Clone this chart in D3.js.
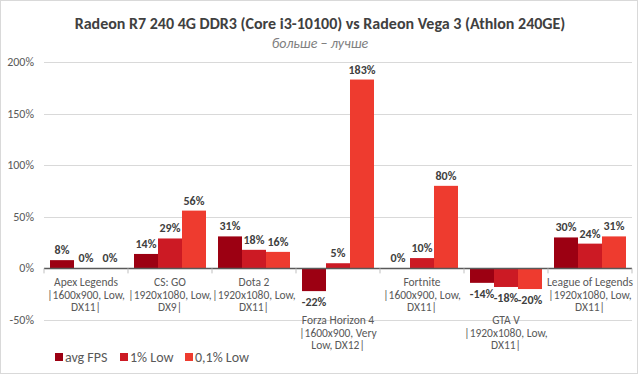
<!DOCTYPE html>
<html>
<head>
<meta charset="utf-8">
<script src="https://cdn.jsdelivr.net/npm/d3@7"></script>
<style>
    body { margin: 0; background: #fff; }
    svg { display: block; font-family: Calibri, Carlito, "Open Sans", sans-serif; }
</style>
</head>
<body>
<svg id="chart" width="640" height="376"></svg>
<script>
// Chart data
const categories = [
    ['Apex Legends', '|1600x900, Low,', 'DX11|'],
    ['CS: GO', '|1920x1080, Low,', 'DX9|'],
    ['Dota 2', '|1920x1080, Low,', 'DX11|'],
    ['Forza Horizon 4', '|1600x900, Very', 'Low, DX12|'],
    ['Fortnite', '|1600x900, Low,', 'DX11|'],
    ['GTA V', '|1920x1080, Low,', 'DX11|'],
    ['League of Legends', '|1920x1080, Low,', 'DX11|']
];
const seriesNames = ['avg FPS', '1% Low', '0,1% Low'];
const avgFps = [8, 14, 31, -22, 0, -14, 30];
const low1 = [0, 29, 18, 5, 10, -18, 24];
const low01 = [0, 56, 16, 183, 80, -20, 31];
const yTicks = [-50, 0, 50, 100, 150, 200];

const colors = ['#9c0012', '#cc1a24', '#ee3b2f'];
const seriesValues = [avgFps, low1, low01];

const width = 640, height = 376;
const margin = { left: 44, right: 8, top: 62, bottom: 56 };

const svg = d3.select('#chart');

// Outer border
svg.append('rect')
    .attr('x', 0.5).attr('y', 0.5)
    .attr('width', width - 3).attr('height', height - 3)
    .attr('fill', '#fff')
    .attr('stroke', '#d9d9d9');

// Title
svg.append('text')
    .attr('x', 320).attr('y', 29)
    .attr('text-anchor', 'middle')
    .attr('font-size', 16)
    .attr('font-weight', 'bold')
    .attr('fill', '#404040')
    .text('Radeon R7 240 4G DDR3 (Core i3-10100) vs Radeon Vega 3 (Athlon 240GE)');

svg.append('text')
    .attr('x', 320).attr('y', 48)
    .attr('text-anchor', 'middle')
    .attr('font-size', 14)
    .attr('font-style', 'italic')
    .attr('fill', '#808080')
    .text('больше – лучше');

const x = d3.scaleBand()
    .domain(d3.range(categories.length))
    .range([margin.left, width - margin.right])
    .paddingInner(0.143)
    .paddingOuter(0.0715);

const xInner = d3.scaleBand()
    .domain(d3.range(seriesNames.length))
    .range([0, x.bandwidth()]);

const y = d3.scaleLinear()
    .domain([-50, 200])
    .range([320, 62]);

// Gridlines
svg.append('g')
    .selectAll('line')
    .data(yTicks.filter(t => t !== 0))
    .join('line')
    .attr('x1', margin.left).attr('x2', width - margin.right)
    .attr('y1', d => Math.round(y(d)) + 0.5).attr('y2', d => Math.round(y(d)) + 0.5)
    .attr('stroke', '#d9d9d9');

// Y axis labels
svg.append('g')
    .selectAll('text')
    .data(yTicks)
    .join('text')
    .attr('x', 34)
    .attr('y', d => y(d) + 4)
    .attr('text-anchor', 'end')
    .attr('font-size', 12)
    .attr('fill', '#595959')
    .text(d => d + '%');

// Bars
const groups = svg.append('g')
    .selectAll('g')
    .data(categories.map((c, i) => i))
    .join('g')
    .attr('transform', i => `translate(${x(i)},0)`);

groups.selectAll('rect')
    .data(i => seriesValues.map((s, k) => ({ k, v: s[i] })))
    .join('rect')
    .attr('x', d => xInner(d.k))
    .attr('width', xInner.bandwidth())
    .attr('y', d => y(Math.max(0, d.v)))
    .attr('height', d => Math.abs(y(d.v) - y(0)))
    .attr('fill', d => colors[d.k]);

// Value labels
groups.selectAll('text.val')
    .data(i => seriesValues.map((s, k) => ({ k, v: s[i] })))
    .join('text')
    .attr('class', 'val')
    .attr('x', d => xInner(d.k) + xInner.bandwidth() / 2)
    .attr('y', d => d.v < 0 ? y(d.v) + 15 : y(d.v) - 6)
    .attr('text-anchor', 'middle')
    .attr('font-size', 12)
    .attr('font-weight', 'bold')
    .attr('fill', '#404040')
    .text(d => d.v + '%');

// Zero axis line and ticks
svg.append('line')
    .attr('x1', margin.left).attr('x2', width - margin.right)
    .attr('y1', Math.round(y(0)) + 0.5).attr('y2', Math.round(y(0)) + 0.5)
    .attr('stroke', '#595959')
    .attr('stroke-width', 1.3);

const step = x.step();
svg.append('g')
    .selectAll('line')
    .data(d3.range(categories.length + 1))
    .join('line')
    .attr('x1', i => margin.left + i * step).attr('x2', i => margin.left + i * step)
    .attr('y1', y(0)).attr('y2', y(0) + 5)
    .attr('stroke', '#bfbfbf');

// Category labels, pushed below negative bars
groups.each(function(i) {
    const minV = d3.min(seriesValues, s => s[i]);
    const top = minV < 0 ? 320 : 282;
    const t = d3.select(this).append('text')
        .attr('text-anchor', 'middle')
        .attr('font-size', 11.5)
        .attr('fill', '#595959');
    categories[i].forEach((line, j) => {
        t.append('tspan')
            .attr('x', x.bandwidth() / 2)
            .attr('y', top + 4 + j * 12.7)
            .text(line);
    });
});

// Legend
const legend = svg.append('g').attr('transform', 'translate(55,357)');
const legendX = [0, 65, 130];
seriesNames.forEach((name, k) => {
    const g = legend.append('g').attr('transform', `translate(${legendX[k]},0)`);
    g.append('rect')
        .attr('x', 0).attr('y', -4)
        .attr('width', 8).attr('height', 8)
        .attr('fill', colors[k]);
    g.append('text')
        .attr('x', 10).attr('y', 4.5)
        .attr('font-size', 14)
        .attr('fill', '#595959')
        .text(name);
});
</script>
</body>
</html>
